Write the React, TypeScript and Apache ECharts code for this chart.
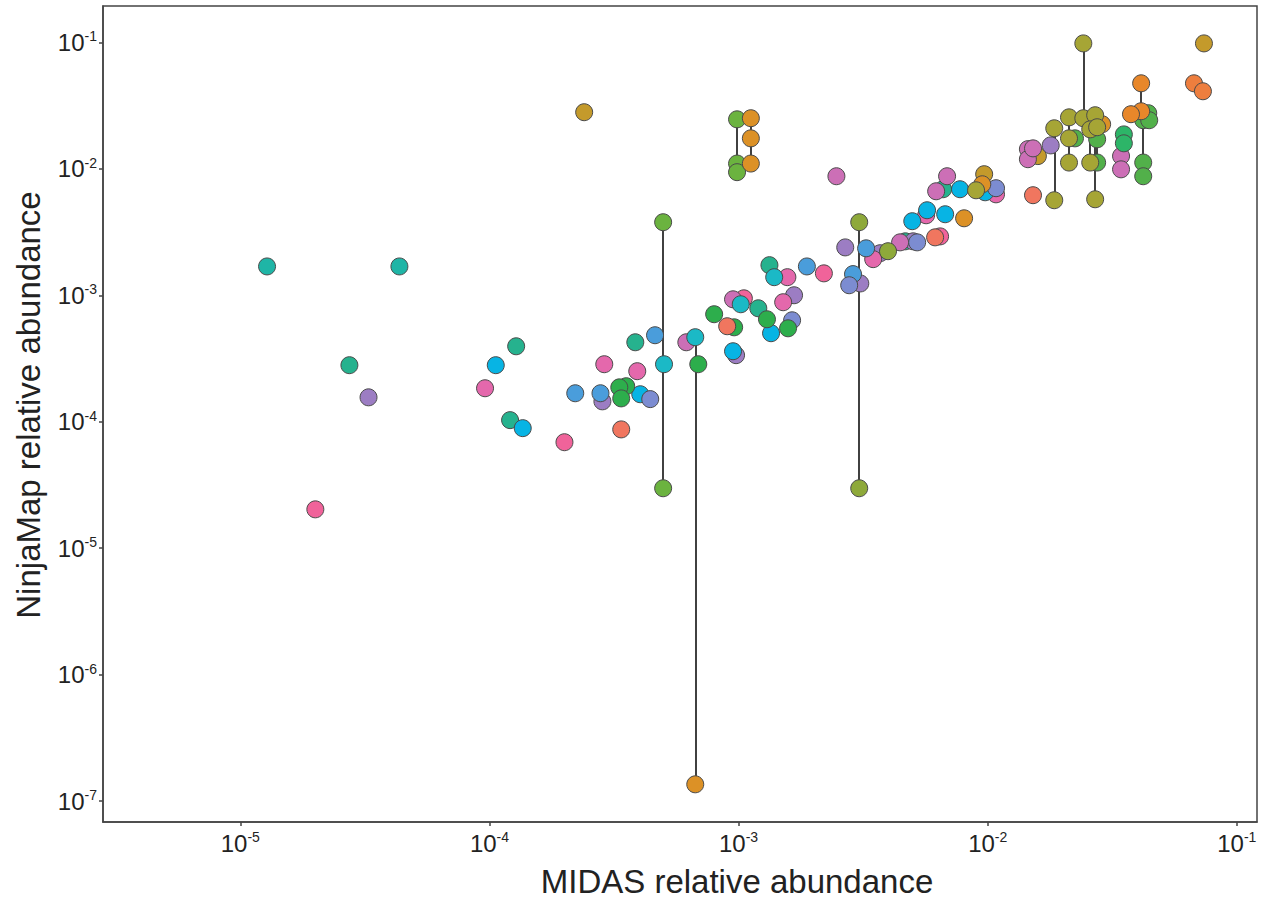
import React, { useEffect, useRef } from 'react';
import * as echarts from 'echarts';

// Axis ticks (powers of ten)
const xTicks = [1e-5, 1e-4, 1e-3, 1e-2, 1e-1];
const yTicks = [1e-7, 1e-6, 1e-5, 1e-4, 1e-3, 1e-2, 1e-1];
const xTitle = 'MIDAS relative abundance';
const yTitle = 'NinjaMap relative abundance';

// Points: [MIDAS relative abundance, NinjaMap relative abundance, linkId?]
// Points sharing a linkId are joined by a vertical line.
type Pt = [number, number, string?];

const teal: Pt[] = [[1.28e-5, 1.69e-3], [4.35e-5, 1.69e-3]];
const tealGreen: Pt[] = [
  [2.74e-5, 2.8e-4], [1.28e-4, 3.95e-4], [1.21e-4, 1.03e-4], [3.85e-4, 4.25e-4],
  [1.2e-3, 7.89e-4], [1.33e-3, 1.73e-3], [4.67e-3, 2.67e-3], [6.62e-3, 6.89e-3],
];
const purple: Pt[] = [
  [3.27e-5, 1.56e-4], [2.84e-4, 1.45e-4], [9.77e-4, 3.36e-4], [1.67e-3, 1.0e-3],
  [2.68e-3, 2.39e-3], [3.08e-3, 1.24e-3], [3.7e-3, 2.15e-3], [5.02e-3, 2.67e-3],
  [1.79e-2, 1.53e-2],
];
const pink: Pt[] = [
  [2.0e-5, 2.03e-5], [2.0e-4, 6.89e-5], [1.05e-3, 9.46e-4], [2.2e-3, 1.49e-3], [6.44e-3, 2.92e-3],
];
const magenta: Pt[] = [
  [9.6e-5, 1.84e-4], [2.89e-4, 2.85e-4], [3.92e-4, 2.51e-4], [1.57e-3, 1.39e-3],
  [1.51e-3, 8.81e-4], [3.47e-3, 1.93e-3], [5.66e-3, 4.29e-3], [1.08e-2, 6.28e-3],
];
const violet: Pt[] = [
  [6.17e-4, 4.25e-4], [9.5e-4, 9.29e-4], [2.47e-3, 8.73e-3], [4.45e-3, 2.62e-3],
  [6.87e-3, 8.73e-3], [6.21e-3, 6.64e-3], [1.45e-2, 1.43e-2], [1.45e-2, 1.19e-2],
  [1.52e-2, 1.45e-2], [3.43e-2, 1.26e-2], [3.43e-2, 9.9e-3],
];
const cyan: Pt[] = [
  [1.06e-4, 2.8e-4], [1.36e-4, 8.9e-5], [4.03e-4, 1.65e-4], [1.35e-3, 5.01e-4],
  [9.5e-4, 3.61e-4], [4.98e-3, 3.85e-3], [5.71e-3, 4.7e-3], [6.75e-3, 4.37e-3],
  [7.74e-3, 6.89e-3], [9.77e-3, 6.52e-3],
];
const tealCyan: Pt[] = [[5.02e-4, 2.85e-4], [6.7e-4, 4.66e-4, 'b'], [1.02e-3, 8.49e-4], [1.39e-3, 1.39e-3]];
const blue: Pt[] = [
  [2.21e-4, 1.68e-4], [2.79e-4, 1.68e-4], [4.62e-4, 4.83e-4], [1.88e-3, 1.69e-3],
  [3.25e-3, 2.35e-3], [2.88e-3, 1.47e-3],
];
const periwinkle: Pt[] = [[4.42e-4, 1.51e-4], [1.64e-3, 6.34e-4], [2.78e-3, 1.2e-3], [5.21e-3, 2.62e-3], [1.08e-2, 7.02e-3]];
const green: Pt[] = [
  [3.54e-4, 1.91e-4], [3.32e-4, 1.87e-4], [3.38e-4, 1.53e-4], [6.89e-4, 2.85e-4],
  [7.98e-4, 7.08e-4], [9.6e-4, 5.58e-4], [1.3e-3, 6.46e-4], [1.58e-3, 5.48e-4],
];
const lime: Pt[] = [
  [4.98e-4, 3.78e-3, 'a'], [4.98e-4, 2.98e-5, 'a'],
  [9.86e-4, 2.46e-2, 'd'], [9.86e-4, 1.1e-2, 'd'], [9.86e-4, 9.4e-3, 'd'],
];
const oliveGreen: Pt[] = [[3.05e-3, 3.78e-3, 'c'], [3.05e-3, 2.98e-5, 'c'], [3.98e-3, 2.23e-3]];
const coral: Pt[] = [[3.38e-4, 8.7e-5], [9.0e-4, 5.69e-4], [6.15e-3, 2.87e-3], [1.52e-2, 6.18e-3]];
const emerald: Pt[] = [[3.52e-2, 1.87e-2], [3.52e-2, 1.59e-2]];
const leafGreen: Pt[] = [
  [2.24e-2, 1.74e-2], [2.75e-2, 1.71e-2, 'l'], [2.75e-2, 1.12e-2, 'l'], [4.41e-2, 2.75e-2],
  [4.21e-2, 2.42e-2, 'm'], [4.45e-2, 2.42e-2], [4.21e-2, 1.12e-2, 'm'], [4.21e-2, 8.73e-3, 'm'],
];
const orange: Pt[] = [
  [6.7e-4, 1.36e-7, 'b'], [1.12e-3, 2.51e-2, 'e'], [1.12e-3, 1.74e-2, 'e'], [1.12e-3, 1.1e-2, 'e'],
  [8.04e-3, 4.06e-3], [9.51e-3, 7.54e-3], [2.88e-2, 2.25e-2],
];
const orangeDeep: Pt[] = [[4.13e-2, 4.74e-2, 'k'], [4.13e-2, 2.85e-2, 'k'], [3.76e-2, 2.7e-2]];
const coralOrange: Pt[] = [[6.73e-2, 4.74e-2], [7.31e-2, 4.1e-2]];
const mustard: Pt[] = [[2.4e-4, 2.8e-2], [9.68e-3, 9.06e-3], [1.59e-2, 1.26e-2], [7.38e-2, 9.8e-2]];
const olive: Pt[] = [
  [8.98e-3, 6.76e-3], [1.85e-2, 2.09e-2, 'f'], [1.85e-2, 5.64e-3, 'f'],
  [2.12e-2, 2.55e-2, 'g'], [2.12e-2, 1.74e-2, 'g'], [2.12e-2, 1.12e-2, 'g'],
  [2.42e-2, 9.8e-2, 'h'], [2.42e-2, 2.51e-2, 'h'],
  [2.7e-2, 2.65e-2, 'i'], [2.7e-2, 5.74e-3, 'i'],
  [2.58e-2, 2.05e-2, 'j'], [2.58e-2, 1.12e-2, 'j'], [2.75e-2, 2.13e-2],
];

const groups: { name: string; color: string; data: Pt[] }[] = [
  { name: 'mustard', color: '#C49A2B', data: mustard },
  { name: 'teal', color: '#1FB5A6', data: teal },
  { name: 'tealGreen', color: '#26B28E', data: tealGreen },
  { name: 'purple', color: '#9C7DC3', data: purple },
  { name: 'pink', color: '#F0639A', data: pink },
  { name: 'magenta', color: '#E468AC', data: magenta },
  { name: 'violet', color: '#CC6FB6', data: violet },
  { name: 'cyan', color: '#07B4E4', data: cyan },
  { name: 'tealCyan', color: '#1BB9C6', data: tealCyan },
  { name: 'blue', color: '#4A9DDB', data: blue },
  { name: 'periwinkle', color: '#7C8CD1', data: periwinkle },
  { name: 'green', color: '#2DAE4C', data: green },
  { name: 'lime', color: '#6BB33F', data: lime },
  { name: 'oliveGreen', color: '#8EA93A', data: oliveGreen },
  { name: 'coral', color: '#F0765F', data: coral },
  { name: 'emerald', color: '#2DB568', data: emerald },
  { name: 'leafGreen', color: '#52B04A', data: leafGreen },
  { name: 'orange', color: '#DC9126', data: orange },
  { name: 'orangeDeep', color: '#E8872A', data: orangeDeep },
  { name: 'coralOrange', color: '#EE7E3E', data: coralOrange },
  { name: 'olive', color: '#A6A535', data: olive },
];

const FONT = '"Liberation Sans", Arial, Helvetica, sans-serif';

function buildLinks() {
  const map: Record<string, Pt[]> = {};
  groups.forEach((g) =>
    g.data.forEach((p) => {
      if (p[2]) {
        (map[p[2]] = map[p[2]] || []).push(p);
      }
    })
  );
  return Object.keys(map).map((k) => {
    const pts = map[k];
    const ys = pts.map((p) => p[1]);
    const x = pts[0][0];
    return { coords: [[x, Math.max(...ys)], [x, Math.min(...ys)]] };
  });
}

const powLabel = (v: number) => `{b|10}{s|${Math.round(Math.log10(v))}}`;
const rich = {
  b: { fontSize: 24, lineHeight: 26, fontFamily: FONT, color: '#222' },
  s: { fontSize: 14, lineHeight: 20, verticalAlign: 'top', fontFamily: FONT, color: '#222' },
};

export default function App() {
  const ref = useRef<HTMLDivElement>(null);
  useEffect(() => {
    if (!ref.current) return;
    const chart = echarts.init(ref.current, undefined, { renderer: 'svg' });
    const axisColor = '#444';
    chart.setOption({
      animation: false,
      backgroundColor: '#ffffff',
      grid: {
        left: 103, right: 10, top: 6, bottom: 82,
        show: true, borderColor: axisColor, borderWidth: 1.5, backgroundColor: 'transparent',
      },
      xAxis: {
        type: 'log', logBase: 10, min: 2.81e-6, max: 0.1205,
        name: xTitle, nameLocation: 'middle', nameGap: 43,
        nameTextStyle: { fontSize: 33, fontFamily: FONT, color: '#222', padding: [0, 0, 0, 114] },
        axisLine: { show: true, onZero: false, lineStyle: { color: axisColor, width: 1.5 } },
        axisTick: { show: true, length: 4, customValues: xTicks, lineStyle: { color: axisColor, width: 1.5 } },
        axisLabel: { customValues: xTicks, formatter: powLabel, rich, margin: 8 },
        splitLine: { show: false },
        minorTick: { show: false },
      },
      yAxis: {
        type: 'log', logBase: 10, min: 6.85e-8, max: 0.1936,
        name: yTitle, nameLocation: 'middle', nameGap: 58,
        nameTextStyle: { fontSize: 33, fontFamily: FONT, color: '#222', padding: [0, 0, 0, 18] },
        axisLine: { show: true, onZero: false, lineStyle: { color: axisColor, width: 1.5 } },
        axisTick: { show: true, length: 4, customValues: yTicks, lineStyle: { color: axisColor, width: 1.5 } },
        axisLabel: { customValues: yTicks, formatter: powLabel, rich, margin: 6 },
        splitLine: { show: false },
        minorTick: { show: false },
      },
      series: [
        {
          type: 'lines',
          coordinateSystem: 'cartesian2d',
          z: 1,
          silent: true,
          lineStyle: { color: '#111', width: 1.6, opacity: 1 },
          data: buildLinks(),
        },
        ...groups.map((g) => ({
          type: 'scatter',
          name: g.name,
          z: 2,
          symbol: 'circle',
          symbolSize: 17,
          itemStyle: { color: g.color, borderColor: '#4a4a4a', borderWidth: 1, opacity: 1 },
          data: g.data.map((p) => [p[0], p[1]]),
        })),
      ],
    });
    return () => chart.dispose();
  }, []);
  return <div ref={ref} style={{ position: 'fixed', left: 0, top: 0, width: 1267, height: 904 }} />;
}
